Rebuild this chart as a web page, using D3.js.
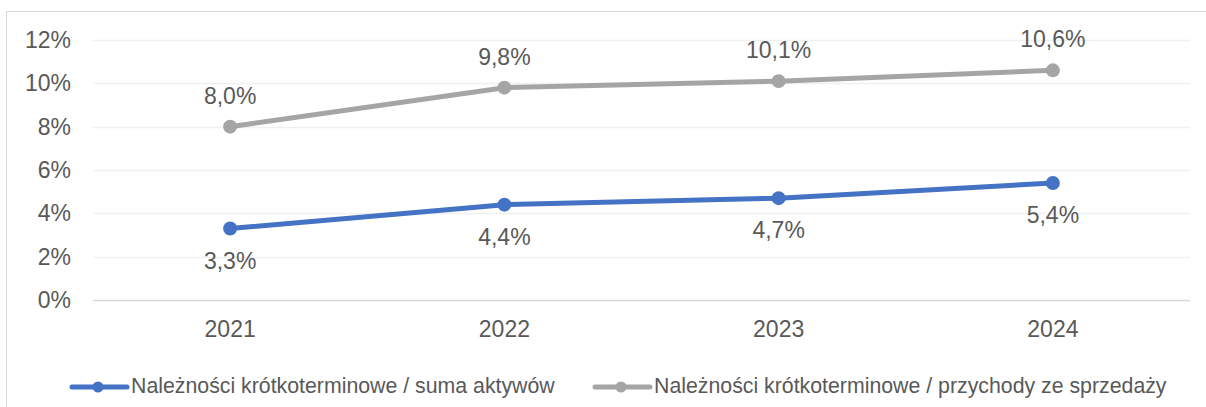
<!DOCTYPE html>
<html>
<head>
<meta charset="utf-8">
<script src="https://cdn.jsdelivr.net/npm/d3@7"></script>
<style>
  body { margin: 0; background: #fff; }
  text { font-family: "Liberation Sans", Arial, sans-serif; fill: #595959; }
</style>
</head>
<body>
<script>
// Width and height
var w = 1206;
var h = 407;

var years = ["2021", "2022", "2023", "2024"];
var sumaAktywow = [3.3, 4.4, 4.7, 5.4];
var przychody = [8.0, 9.8, 10.1, 10.6];
var yTicks = [0, 2, 4, 6, 8, 10, 12];
var seriesNames = ["Należności krótkoterminowe / suma aktywów",
                   "Należności krótkoterminowe / przychody ze sprzedaży"];
var seriesColors = ["#4472C4", "#A5A5A5"];

var plot = { left: 93, right: 1190, top: 40, bottom: 300 };

var xScale = d3.scaleBand()
    .domain(years)
    .range([plot.left, plot.right]);

var yScale = d3.scaleLinear()
    .domain([0, 12])
    .range([plot.bottom, plot.top]);

var svg = d3.select("body")
    .append("svg")
    .attr("width", w)
    .attr("height", h);

// chart frame
svg.append("rect")
    .attr("x", 6.5).attr("y", 11.5)
    .attr("width", w + 10).attr("height", h + 10)
    .attr("fill", "none")
    .attr("stroke", "#d9d9d9")
    .attr("stroke-width", 1);

// gridlines
svg.selectAll("line.grid")
    .data(yTicks)
    .enter()
    .append("line")
    .attr("class", "grid")
    .attr("x1", plot.left).attr("x2", plot.right)
    .attr("y1", function(d) { return Math.round(yScale(d)) + 0.5; })
    .attr("y2", function(d) { return Math.round(yScale(d)) + 0.5; })
    .attr("stroke", function(d) { return d === 0 ? "#d9d9d9" : "#f0f0f0"; })
    .attr("stroke-width", 1.5);

// y axis labels
var yAxis = d3.axisLeft(yScale)
    .tickValues(yTicks)
    .tickFormat(function(d) { return d + "%"; })
    .tickSize(0)
    .tickPadding(0);

svg.append("g")
    .attr("transform", "translate(71,0)")
    .call(yAxis)
    .call(function(g) { g.select(".domain").remove(); })
    .selectAll("text")
    .attr("font-size", "23px")
    .attr("font-family", "Liberation Sans, Arial, sans-serif");

// x axis labels
var xAxis = d3.axisBottom(xScale).tickSize(0).tickPadding(0);
svg.append("g")
    .attr("transform", "translate(0," + 337 + ")")
    .call(xAxis)
    .call(function(g) { g.select(".domain").remove(); })
    .selectAll("text")
    .attr("dy", "0")
    .attr("font-size", "23px")
    .attr("font-family", "Liberation Sans, Arial, sans-serif");

function cx(d, i) { return xScale(years[i]) + xScale.bandwidth() / 2; }

var line = d3.line()
    .x(function(d, i) { return cx(d, i); })
    .y(function(d) { return yScale(d); });

var allSeries = [sumaAktywow, przychody];

allSeries.forEach(function(values, s) {
    svg.append("path")
        .datum(values)
        .attr("d", line)
        .attr("fill", "none")
        .attr("stroke", seriesColors[s])
        .attr("stroke-width", 5)
        .attr("stroke-linecap", "round");

    svg.selectAll("circle.s" + s)
        .data(values)
        .enter()
        .append("circle")
        .attr("class", "s" + s)
        .attr("cx", cx)
        .attr("cy", function(d) { return yScale(d); })
        .attr("r", 7)
        .attr("fill", seriesColors[s]);

    // data labels: blue below, gray above
    svg.selectAll("text.lbl" + s)
        .data(values)
        .enter()
        .append("text")
        .attr("class", "lbl" + s)
        .attr("text-anchor", "middle")
        .attr("x", cx)
        .attr("y", function(d) { return s === 0 ? yScale(d) + 40 : yScale(d) - 23; })
        .attr("font-size", "23px")
        .text(function(d) { return d.toFixed(1).replace(".", ",") + "%"; });
});

// legend
var legendX = [72, 595];
var legend = svg.selectAll("g.legend")
    .data(seriesNames)
    .enter()
    .append("g")
    .attr("class", "legend")
    .attr("transform", function(d, i) { return "translate(" + legendX[i] + ",387)"; });

legend.append("line")
    .attr("x1", 0).attr("x2", 55)
    .attr("stroke", function(d, i) { return seriesColors[i]; })
    .attr("stroke-width", 5)
    .attr("stroke-linecap", "round");

legend.append("circle")
    .attr("cx", 26)
    .attr("r", 5.5)
    .attr("fill", function(d, i) { return seriesColors[i]; });

legend.append("text")
    .attr("x", 59)
    .attr("y", 6)
    .attr("font-size", "21.3px")
    .text(function(d) { return d; });
</script>
</body>
</html>
